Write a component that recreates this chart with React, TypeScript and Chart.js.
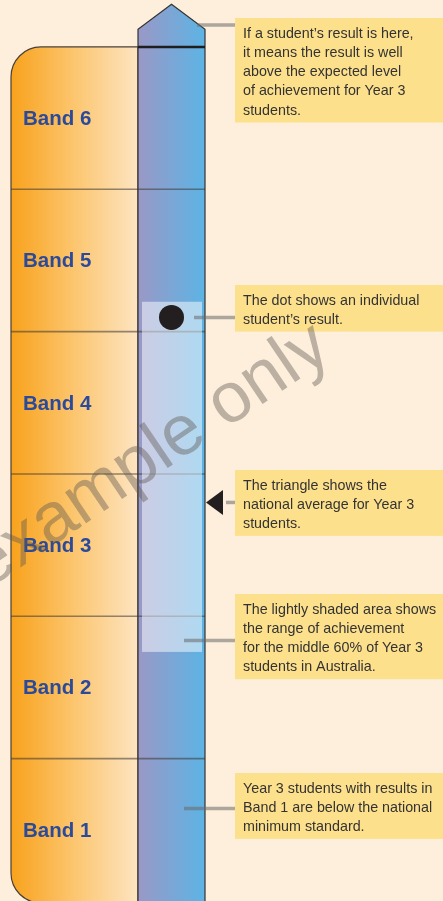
import React, { useEffect, useRef } from 'react';
import { Chart, registerables } from 'chart.js';

Chart.register(...registerables);

// ---- data ----
const bandLabels = ['Band 1', 'Band 2', 'Band 3', 'Band 4', 'Band 5', 'Band 6'];
const bandEdges = [0, 1, 2, 3, 4, 5, 6];
const arrowTip = [6.3];
const studentResult = [4.1];
const nationalAverage = [2.8];
const middle60Range = [1.75, 4.21];
const noteAnchors = [6.155, 4.1, 2.8, 1.83, 0.65];
const noteTexts: string[][] = [
  ['If a student\u2019s result is here,', 'it means the result is well', 'above the expected level', 'of achievement for Year 3', 'students.'],
  ['The dot shows an individual', 'student\u2019s result.'],
  ['The triangle shows the', 'national average for Year 3', 'students.'],
  ['The lightly shaded area shows', 'the range of achievement', 'for the middle 60% of Year 3', 'students in Australia.'],
  ['Year 3 students with results in', 'Band 1 are below the national', 'minimum standard.'],
];
const watermarkText = 'example only';

// ---- layout (pixels) ----
const W = 443;
const H = 901;
const Y_MAX = 6.33;
const ORANGE_L = 11;
const COL_L = 138;
const COL_R = 205;
const COL_CX = 171.5;
const SHADE_L = 142;
const SHADE_R = 202;
const BOX_L = 235;
const TRI_CX = 214.5;
const noteLeaderStart = [197, 194, 226, 184, 184];
const noteBoxTop = [18, 285, 470, 594, 773];
const LINE_H = 19.3;
const FONT = '"Liberation Sans", Arial, Helvetica, sans-serif';

function makeTriangle() {
  const c = document.createElement('canvas');
  c.width = 17;
  c.height = 25;
  const g = c.getContext('2d')!;
  g.fillStyle = '#231F20';
  g.beginPath();
  g.moveTo(0, 12.5);
  g.lineTo(17, 0);
  g.lineTo(17, 25);
  g.closePath();
  g.fill();
  return c;
}

const infographic = {
  id: 'infographic',
  beforeDatasetsDraw(chart: any) {
    const ctx = chart.ctx as CanvasRenderingContext2D;
    const ys = chart.scales.y;
    const xs = chart.scales.x;
    const px = (v: number) => xs.getPixelForValue(v);
    const py = (v: number) => ys.getPixelForValue(v);

    ctx.save();
    ctx.fillStyle = '#FDEFDB';
    ctx.fillRect(0, 0, W, H);

    const top = py(bandEdges[bandEdges.length - 1]);
    const bottom = py(bandEdges[0]) + 2;
    const r = 30;

    // orange box
    const og = ctx.createLinearGradient(px(ORANGE_L), 0, px(COL_L), 0);
    og.addColorStop(0, '#F8A21C');
    og.addColorStop(0.5, '#FCC66F');
    og.addColorStop(1, '#FDE4C2');
    ctx.beginPath();
    ctx.moveTo(px(COL_L), top);
    ctx.lineTo(px(ORANGE_L) + r, top);
    ctx.arcTo(px(ORANGE_L), top, px(ORANGE_L), top + r, r);
    ctx.lineTo(px(ORANGE_L), bottom - r);
    ctx.arcTo(px(ORANGE_L), bottom, px(ORANGE_L) + r, bottom, r);
    ctx.lineTo(px(COL_L), bottom);
    ctx.closePath();
    ctx.fillStyle = og;
    ctx.fill();
    ctx.strokeStyle = '#4A4038';
    ctx.lineWidth = 1.2;
    ctx.stroke();

    // column with arrow
    const tipY = py(arrowTip[0]);
    const shoulderY = tipY + 25;
    const cg = ctx.createLinearGradient(px(COL_L), 0, px(COL_R), 0);
    cg.addColorStop(0, '#9A98C6');
    cg.addColorStop(1, '#5CB4E5');
    ctx.beginPath();
    ctx.moveTo(px(COL_L), H + 5);
    ctx.lineTo(px(COL_L), shoulderY);
    ctx.lineTo(px(COL_CX), tipY);
    ctx.lineTo(px(COL_R), shoulderY);
    ctx.lineTo(px(COL_R), H + 5);
    ctx.closePath();
    ctx.fillStyle = cg;
    ctx.fill();
    ctx.strokeStyle = '#333333';
    ctx.lineWidth = 1.2;
    ctx.stroke();

    // band separators
    for (let i = 1; i < bandEdges.length - 1; i++) {
      const y = py(bandEdges[i]);
      ctx.beginPath();
      ctx.moveTo(px(ORANGE_L), y);
      ctx.lineTo(px(COL_R), y);
      ctx.strokeStyle = 'rgba(60,55,50,0.55)';
      ctx.lineWidth = 1.6;
      ctx.stroke();
    }
    ctx.beginPath();
    ctx.moveTo(px(COL_L), top);
    ctx.lineTo(px(COL_R), top);
    ctx.strokeStyle = '#1E1E1E';
    ctx.lineWidth = 2.5;
    ctx.stroke();

    // band labels
    ctx.fillStyle = '#2C4A9A';
    ctx.font = `bold 20.5px ${FONT}`;
    ctx.textAlign = 'left';
    ctx.textBaseline = 'alphabetic';
    for (let i = 0; i < bandLabels.length; i++) {
      const mid = (py(bandEdges[i]) + py(bandEdges[i + 1])) / 2;
      ctx.fillText(bandLabels[i], 23, mid + 7);
    }

    // middle 60% shaded area
    const sTop = py(middle60Range[1]);
    const sBot = py(middle60Range[0]);
    ctx.fillStyle = 'rgba(255,255,255,0.5)';
    ctx.fillRect(px(SHADE_L), sTop, px(SHADE_R) - px(SHADE_L), sBot - sTop);
    ctx.restore();
  },
  afterDatasetsDraw(chart: any) {
    const ctx = chart.ctx as CanvasRenderingContext2D;
    const ys = chart.scales.y;
    const xs = chart.scales.x;
    const px = (v: number) => xs.getPixelForValue(v);
    const py = (v: number) => ys.getPixelForValue(v);
    ctx.save();

    for (let i = 0; i < noteTexts.length; i++) {
      const ay = py(noteAnchors[i]);
      ctx.beginPath();
      ctx.moveTo(px(noteLeaderStart[i]), ay);
      ctx.lineTo(px(BOX_L), ay);
      ctx.strokeStyle = 'rgba(105,105,105,0.55)';
      ctx.lineWidth = 3.5;
      ctx.stroke();
      const lines = noteTexts[i];
      const top = noteBoxTop[i];
      const h = lines.length * LINE_H + 8;
      ctx.fillStyle = '#FDE08C';
      ctx.fillRect(px(BOX_L), top, W - px(BOX_L), h);
      ctx.fillStyle = '#333333';
      ctx.font = `14.3px ${FONT}`;
      ctx.textAlign = 'left';
      ctx.textBaseline = 'alphabetic';
      lines.forEach((t, k) => ctx.fillText(t, px(BOX_L) + 8, top + 19.5 + k * LINE_H));
    }

    // watermark
    ctx.translate(-13, 590);
    ctx.rotate((-34 * Math.PI) / 180);
    ctx.font = `71px ${FONT}`;
    ctx.fillStyle = 'rgba(95,88,80,0.42)';
    ctx.textAlign = 'left';
    ctx.textBaseline = 'alphabetic';
    ctx.fillText(watermarkText, 0, 0);
    ctx.restore();
  },
};

export default function App() {
  const ref = useRef<HTMLCanvasElement>(null);
  useEffect(() => {
    document.body.style.margin = '0';
    document.body.style.background = '#FDEFDB';
    const canvas = ref.current!;
    const chart = new Chart(canvas, {
      type: 'scatter',
      data: {
        datasets: [
          {
            label: 'Student result',
            data: studentResult.map((v) => ({ x: COL_CX, y: v })),
            pointRadius: 12.5,
            pointHoverRadius: 12.5,
            backgroundColor: '#231F20',
            borderWidth: 0,
          },
          {
            label: 'National average',
            data: nationalAverage.map((v) => ({ x: TRI_CX, y: v })),
            pointStyle: makeTriangle(),
            pointRadius: 10,
            backgroundColor: '#231F20',
            borderWidth: 0,
          },
        ],
      },
      options: {
        animation: false,
        responsive: false,
        devicePixelRatio: 1,
        layout: { padding: 0, autoPadding: false },
        events: [],
        clip: false,
        scales: {
          x: { type: 'linear', min: 0, max: W, display: false },
          y: { type: 'linear', min: 0, max: Y_MAX, display: false },
        },
        plugins: { legend: { display: false }, tooltip: { enabled: false } },
      },
      plugins: [infographic],
    });
    return () => chart.destroy();
  }, []);
  return (
    <div style={{ position: 'absolute', left: 0, top: 0, width: W, height: H, overflow: 'hidden' }}>
      <canvas ref={ref} width={W} height={H} style={{ display: 'block', width: W, height: H }} />
    </div>
  );
}
